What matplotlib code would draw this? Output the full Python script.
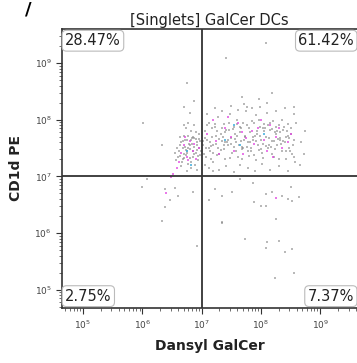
import matplotlib.pyplot as plt
import numpy as np

# log10 values
gray_x = [6.62, 6.65, 6.68, 6.70, 6.72, 6.74, 6.76, 6.78, 6.80, 6.82, 6.84, 6.86, 6.88, 6.90, 6.92, 6.94, 6.96, 6.98,
          6.66, 6.70, 6.73, 6.77, 6.81, 6.85, 6.89, 6.93, 6.97, 6.64, 6.69, 6.75, 6.79, 6.83, 6.87, 6.91, 6.95,
          6.60, 6.58, 6.63, 6.67, 6.71, 6.55, 6.57, 6.99, 6.87, 6.78, 6.92, 6.75, 6.82,
          7.02, 7.05, 7.08, 7.10, 7.12, 7.15, 7.18, 7.20, 7.22, 7.25, 7.28, 7.30, 7.32, 7.35, 7.38, 7.40, 7.42, 7.45,
          7.48, 7.50, 7.52, 7.55, 7.58, 7.60, 7.62, 7.65, 7.68, 7.70, 7.72, 7.75, 7.78, 7.80, 7.82, 7.85, 7.88, 7.90,
          7.92, 7.95, 7.98, 8.00, 8.02, 8.05, 8.08, 8.10, 8.12, 8.15, 8.18, 8.20, 8.22, 8.25, 8.28, 8.30, 8.32, 8.35,
          8.38, 8.40, 8.42, 8.45, 8.48, 8.50, 8.52, 8.55, 8.58,
          7.05, 7.12, 7.20, 7.30, 7.42, 7.55, 7.65, 7.78, 7.90, 8.02, 8.15, 8.30, 8.45,
          7.08, 7.18, 7.28, 7.36, 7.46, 7.56, 7.66, 7.76, 7.86, 7.96, 8.06, 8.16, 8.26, 8.36, 8.46,
          7.14, 7.24, 7.34, 7.44, 7.54, 7.64, 7.74, 7.84, 7.94, 8.04, 8.14, 8.24, 8.34, 8.44, 8.54,
          7.10, 7.22, 7.35, 7.50, 7.62, 7.72, 7.85, 7.98, 8.10, 8.25, 8.40, 8.55, 8.60,
          7.04, 7.16, 7.26, 7.38, 7.48, 7.58, 7.68, 7.80, 7.92, 8.04, 8.18, 8.30, 8.42, 8.56,
          7.20, 7.40, 7.60, 7.70, 7.82, 7.92, 8.00, 8.12, 8.22, 8.32, 8.48,
          6.64, 6.68, 6.72, 6.76, 6.80, 6.84, 6.88, 6.92, 6.96, 6.70, 6.74, 6.78, 6.82, 6.86, 6.90, 6.94,
          7.06, 7.16, 7.26, 7.33, 7.43, 7.53, 7.63, 7.73, 7.83, 7.93, 8.03, 8.13, 8.23, 8.33, 8.43,
          7.09, 7.19, 7.29, 7.39, 7.49, 7.59, 7.69, 7.79, 7.89, 7.99, 8.09, 8.19, 8.29, 8.39, 8.49,
          7.03, 7.13, 7.23, 7.37, 7.47, 7.57, 7.67, 7.77, 7.87, 7.97, 8.07, 8.17, 8.27, 8.37, 8.51,
          8.68, 8.72, 8.75, 8.66,
          6.34, 6.39, 6.46, 6.61, 6.38, 6.55, 6.85, 6.93, 7.13, 7.35, 7.22, 7.35, 7.52, 7.74, 7.89, 8.01, 8.09, 8.11,
          8.09, 8.31, 8.41, 8.53, 8.23, 8.56, 8.26, 8.09, 8.19, 8.36, 8.45, 8.53, 8.65, 8.51, 6.08, 5.99, 7.64, 7.86, 7.34,
          6.76, 6.88, 6.71, 6.80, 8.09, 7.42, 8.19, 7.97, 7.69, 8.56, 7.76, 6.34, 6.01]
gray_y = [7.45, 7.60, 7.30, 7.72, 7.52, 7.38, 7.65, 7.22, 7.48, 7.80, 7.58, 7.35, 7.68, 7.42, 7.55, 7.28, 7.75, 7.62,
          7.18, 7.40, 7.85, 7.50, 7.32, 7.70, 7.20, 7.47, 7.38, 7.55, 7.62, 7.44, 7.58, 7.26, 7.52, 7.78, 7.66,
          7.35, 7.50, 7.70, 7.25, 7.90, 7.42, 7.28, 7.45, 7.90, 7.95, 7.12, 7.10, 7.15,
          7.55, 7.80, 7.35, 7.65, 7.95, 7.45, 7.70, 7.25, 7.88, 7.58, 8.05, 7.40, 7.75, 7.62, 7.92, 7.30, 7.82, 7.55,
          8.10, 7.68, 7.42, 7.88, 7.60, 8.00, 7.35, 7.78, 7.52, 7.95, 7.65, 8.15, 7.45, 7.85, 7.60, 7.98, 7.38, 7.72,
          8.08, 7.55, 7.88, 7.65, 7.42, 7.92, 7.70, 8.12, 7.50, 7.82, 7.62, 7.98, 7.35, 7.75, 7.55, 7.90, 7.68, 7.45,
          7.82, 7.60, 7.30, 7.72, 7.50, 7.85, 7.40, 7.65, 7.25,
          7.20, 7.15, 7.10, 7.12, 7.18, 7.08, 7.20, 7.15, 7.10, 7.22, 7.12, 7.18, 7.10,
          7.50, 7.85, 7.50, 7.70, 7.95, 7.75, 7.62, 7.90, 7.70, 8.00, 7.80, 7.95, 7.88, 8.00, 7.92,
          7.60, 7.72, 7.85, 7.65, 7.52, 7.88, 7.72, 7.50, 7.80, 7.58, 7.68, 7.48, 7.58, 7.80, 7.55,
          8.10, 8.20, 8.15, 8.25, 8.18, 8.28, 8.20, 8.22, 8.30, 8.15, 8.20, 8.10, 7.95,
          7.40, 7.30, 7.38, 7.48, 7.32, 7.44, 7.30, 7.36, 7.28, 7.32, 7.40, 7.30, 7.45, 7.35,
          7.55, 7.60, 7.72, 7.50, 7.78, 7.62, 7.48, 7.90, 7.62, 7.78, 7.68,
          7.36, 7.50, 7.64, 7.42, 7.56, 7.68, 7.40, 7.60, 7.50, 7.32, 7.46, 7.72, 7.64, 7.44, 7.66, 7.36,
          7.68, 7.54, 7.80, 7.46, 7.60, 7.84, 7.56, 7.70, 7.44, 7.74, 7.86, 7.56, 7.78, 7.64, 7.70,
          7.90, 7.42, 7.66, 7.78, 7.58, 7.92, 7.48, 7.60, 7.94, 7.72, 7.54, 7.84, 7.66, 7.88, 7.44,
          7.62, 7.50, 7.92, 7.56, 7.82, 7.66, 7.86, 7.52, 7.64, 7.46, 7.86, 7.52, 7.80, 7.62, 7.74,
          7.60, 7.40, 7.80, 7.20,
          6.21, 6.46, 6.58, 6.65, 6.77, 6.79, 6.72, 5.77, 6.58, 6.19, 6.77, 6.65, 6.72, 5.89, 6.54, 6.47, 6.47, 5.84,
          5.74, 5.86, 5.67, 5.72, 5.21, 5.30, 6.25, 6.68, 6.72, 6.65, 6.60, 6.56, 6.63, 6.82, 6.95, 6.81, 6.95, 6.89, 6.18,
          8.65, 8.33, 8.23, 8.12, 9.35, 9.09, 8.47, 8.37, 8.40, 8.23, 8.23, 7.56, 7.95]

pink_x = [6.70, 6.75, 6.80, 6.85, 6.90, 6.72, 6.88, 6.66, 6.95, 6.78, 6.62, 6.58, 6.52, 6.48, 6.40,
          7.10, 7.25, 7.40, 7.55, 7.62, 7.75, 7.88, 7.95, 8.05, 8.15, 8.25, 8.35, 8.45, 7.30, 7.50, 7.70,
          7.85, 8.10, 8.30, 7.20, 7.45, 7.68, 8.00, 8.20, 8.50, 8.26]
pink_y = [7.55, 7.35, 7.62, 7.45, 7.30, 7.70, 7.58, 7.42, 7.50, 7.28, 7.25, 7.15, 7.05, 6.98, 6.70,
          7.75, 7.62, 7.85, 7.45, 7.95, 7.68, 7.58, 7.85, 7.65, 7.90, 7.70, 7.50, 7.60, 7.40, 7.70, 7.40,
          7.80, 7.45, 7.85, 8.00, 8.05, 7.78, 8.00, 7.35, 7.75, 6.61]

cyan_x = [6.75, 6.82, 7.55, 7.65, 8.05, 7.40]
cyan_y = [7.45, 7.20, 7.90, 7.55, 7.75, 7.65]

quad_labels = ["28.47%", "61.42%", "2.75%", "7.37%"]
gate = 1e7

fig = plt.figure(figsize=(3.57, 3.63), dpi=100)
ax = fig.add_axes([0.174, 0.152, 0.826, 0.768])

ax.scatter(10 ** np.array(gray_x), 10 ** np.array(gray_y), s=4, marker='s', color='#808080', alpha=0.55, linewidths=0)
ax.scatter(10 ** np.array(pink_x), 10 ** np.array(pink_y), s=4, marker='s', color='#e040e0', alpha=0.7, linewidths=0)
ax.scatter(10 ** np.array(cyan_x), 10 ** np.array(cyan_y), s=4, marker='s', color='#40b0e0', alpha=0.8, linewidths=0)

ax.set_xscale('log')
ax.set_yscale('log')
ax.set_xlim(10 ** 4.65, 10 ** 9.62)
ax.set_ylim(10 ** 4.68, 10 ** 9.6)

ax.axvline(gate, color='#333333', lw=1.3)
ax.axhline(gate, color='#333333', lw=1.3)

ax.spines['right'].set_visible(False)
for s in ['left', 'bottom', 'top']:
    ax.spines[s].set_color('#333333')
    ax.spines[s].set_linewidth(1.2)

ax.set_xticks([1e5, 1e6, 1e7, 1e8, 1e9])
ax.set_yticks([1e5, 1e6, 1e7, 1e8, 1e9])
ax.tick_params(which='major', labelsize=6.5, labelcolor='#444444', length=4, color='#333333')
ax.tick_params(which='minor', length=2, color='#555555')

ax.set_xlabel("Dansyl GalCer", fontsize=10, fontweight='bold', color='#222222', labelpad=6)
ax.set_ylabel("CD1d PE", fontsize=10, fontweight='bold', color='#222222', labelpad=8)
ax.set_title("[Singlets] GalCer DCs", fontsize=10.5, color='#222222', pad=3)

box = dict(boxstyle='round,pad=0.2,rounding_size=0.3', fc='white', ec='#bbbbbb', lw=0.8)
pos = [(0.01, 0.985, 'left', 'top'), (0.99, 0.985, 'right', 'top'),
       (0.01, 0.015, 'left', 'bottom'), (0.99, 0.015, 'right', 'bottom')]
for lab, (px, py, ha, va) in zip(quad_labels, pos):
    ax.text(px, py, lab, transform=ax.transAxes, ha=ha, va=va, fontsize=10.5,
            color='#222222', fontweight='medium', bbox=box, zorder=5)

fig.text(0.08, 0.998, "/", fontsize=13, fontweight='bold', ha='center', va='top')

fig.savefig("out.png", dpi=100)
